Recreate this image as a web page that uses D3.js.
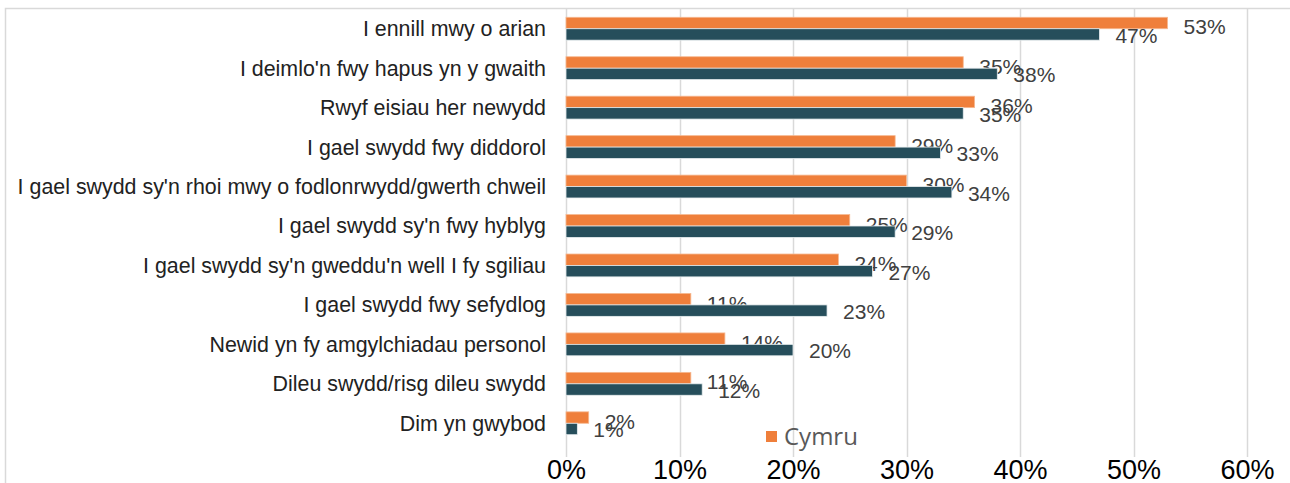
<!DOCTYPE html>
<html>
<head>
<meta charset="utf-8">
<script src="https://cdn.jsdelivr.net/npm/d3@7"></script>
<style>
  body { margin: 0; background: #fff; }
  svg { display: block; font-family: "Liberation Sans", Arial, sans-serif; }
</style>
</head>
<body>
<div id="chart"></div>
<script>
// categories (top to bottom)
var categories = [
  "I ennill mwy o arian",
  "I deimlo'n fwy hapus yn y gwaith",
  "Rwyf eisiau her newydd",
  "I gael swydd fwy diddorol",
  "I gael swydd sy'n rhoi mwy o fodlonrwydd/gwerth chweil",
  "I gael swydd sy'n fwy hyblyg",
  "I gael swydd sy'n gweddu'n well I fy sgiliau",
  "I gael swydd fwy sefydlog",
  "Newid yn fy amgylchiadau personol",
  "Dileu swydd/risg dileu swydd",
  "Dim yn gwybod"
];
// Cymru (orange)
var cymru = [53, 35, 36, 29, 30, 25, 24, 11, 14, 11, 2];
// second series (dark teal, not named in legend)
var other = [47, 38, 35, 33, 34, 29, 27, 23, 20, 12, 1];
var ticks = [0, 10, 20, 30, 40, 50, 60];

var W = 1290, H = 483;
var svg = d3.select("#chart").append("svg").attr("width", W).attr("height", H);

// outer frame
svg.append("path")
  .attr("d", "M5.5," + H + " V8.5 H" + W)
  .attr("fill", "none").attr("stroke", "#d9d9d9").attr("stroke-width", 1.5);

var x = d3.scaleLinear().domain([0, 60]).range([566, 1247]);
var y = d3.scaleBand().domain(categories).range([9, 443]).paddingInner(0.42).paddingOuter(0.21);
var sub = d3.scaleBand().domain(["cymru", "other"]).range([0, y.bandwidth()]);

// gridlines
svg.append("g").selectAll("line").data(ticks).enter().append("line")
  .attr("x1", function(d) { return Math.round(x(d)) + 0.5; })
  .attr("x2", function(d) { return Math.round(x(d)) + 0.5; })
  .attr("y1", 9).attr("y2", 457)
  .attr("stroke", "#d9d9d9").attr("stroke-width", 1.5);

// axis labels
var xAxis = d3.axisBottom(x).tickValues(ticks).tickFormat(function(d) { return d + "%"; }).tickSize(0).tickPadding(0);
var ax = svg.append("g").attr("transform", "translate(0,479)").call(xAxis);
ax.select(".domain").remove();
ax.selectAll("text").attr("font-size", 27).attr("fill", "#000").attr("y", 0).attr("dy", 0)
  .attr("font-family", "'Liberation Sans', Arial, sans-serif");

// category labels
svg.append("g").selectAll("text").data(categories).enter().append("text")
  .attr("x", 546)
  .attr("y", function(d) { return y(d) + y.bandwidth() / 2; })
  .attr("dy", "0.35em")
  .attr("text-anchor", "end")
  .attr("font-size", 21.4)
  .attr("fill", "#222")
  .text(function(d) { return d; });

var series = [
  { key: "cymru", values: cymru, color: "#ef7f3b", stroke: "#f6b891", dy: 4 },
  { key: "other", values: other, color: "#264e5b", stroke: "#e8eef0", dy: 1 }
];

series.forEach(function(s) {
  var g = svg.append("g");
  g.selectAll("rect").data(categories).enter().append("rect")
    .attr("x", x(0))
    .attr("y", function(d) { return y(d) + sub(s.key); })
    .attr("width", function(d, i) { return x(s.values[i]) - x(0); })
    .attr("height", sub.bandwidth())
    .attr("fill", s.color)
    .attr("stroke", s.stroke).attr("stroke-width", 0.8);
  g.selectAll("text").data(categories).enter().append("text")
    .attr("x", function(d, i) { return x(s.values[i]) + 16; })
    .attr("y", function(d) { return y(d) + sub(s.key) + sub.bandwidth() / 2 + s.dy; })
    .attr("dy", "0.35em")
    .attr("font-size", 21)
    .attr("fill", "#404040")
    .text(function(d, i) { return s.values[i] + "%"; });
});

// legend (only Cymru shown)
var lg = svg.append("g").attr("transform", "translate(766,431)");
lg.append("rect").attr("width", 11).attr("height", 11).attr("fill", "#ef7f3b");
lg.append("text").attr("x", 18).attr("y", 6).attr("dy", "0.35em")
  .attr("font-size", 24).attr("fill", "#595959")
  .attr("font-family", "'Open Sans', 'Liberation Sans', sans-serif")
  .text("Cymru");
</script>
</body>
</html>
